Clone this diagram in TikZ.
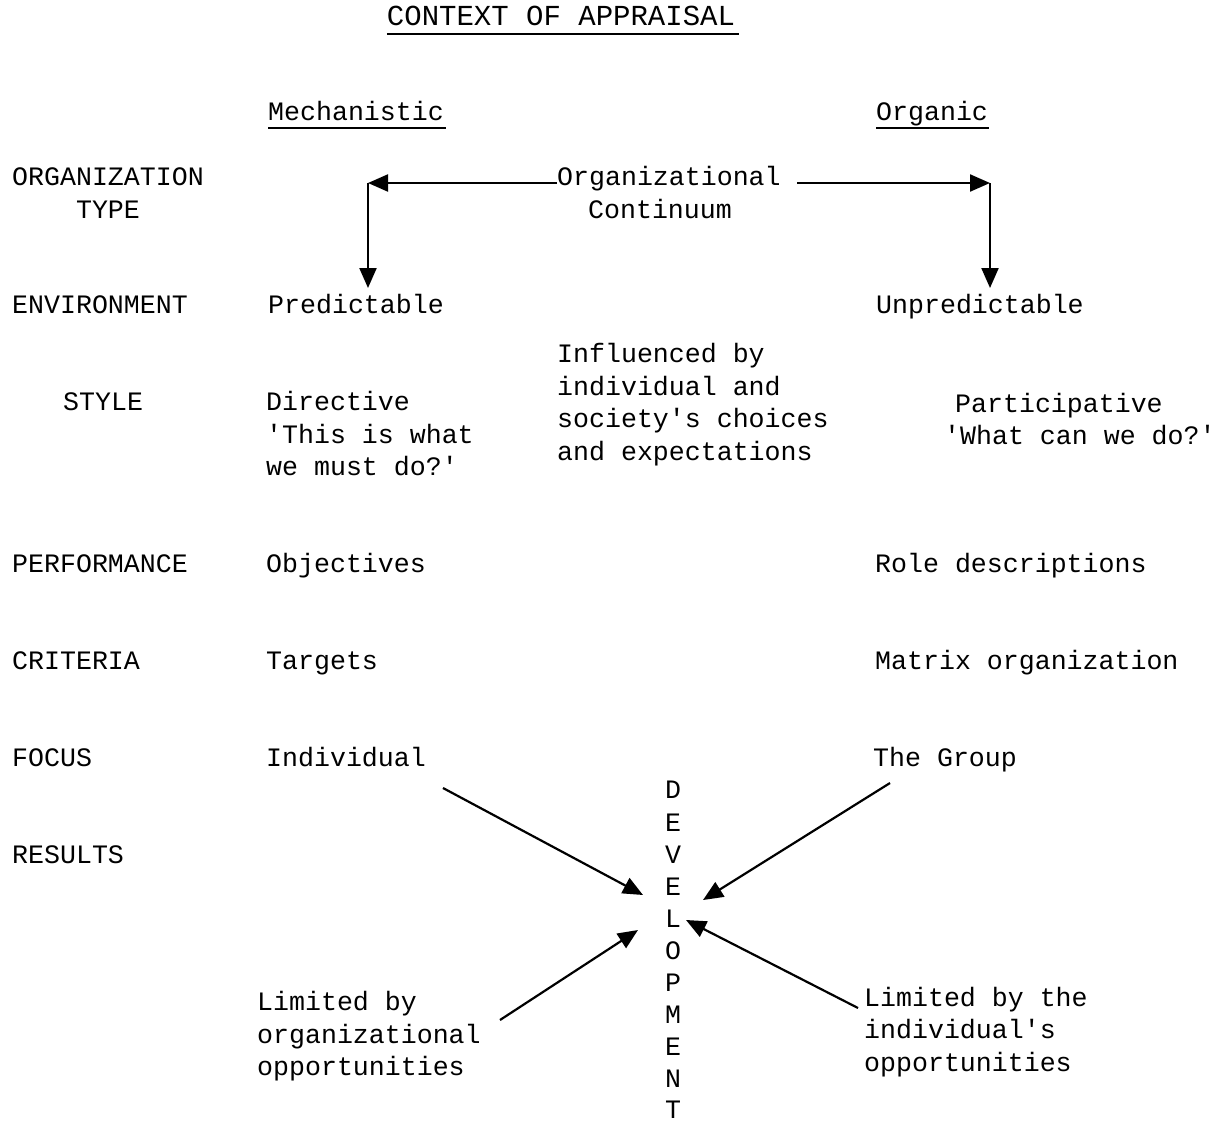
\documentclass[tikz,border=0pt]{standalone}
\usepackage{fontspec}
\setmainfont{Liberation Mono}
\usetikzlibrary{arrows.meta}
\begin{document}
\begin{tikzpicture}[x=1pt,y=-1pt,
  txt/.style={anchor=base west,inner sep=0pt,font=\fontsize{26.6}{32.5}\selectfont},
  ctr/.style={anchor=base,inner sep=0pt,font=\fontsize{26.6}{32.5}\selectfont},
  ttl/.style={anchor=base,inner sep=0pt,font=\fontsize{29}{34}\selectfont},
  ul/.style={line width=2pt},
  arr/.style={line width=2.2pt,-{Triangle[length=20pt,width=17pt]}},
  ln/.style={line width=2.2pt}]
\useasboundingbox (0,0) rectangle (1225,1124);
\fill[white] (0,0) rectangle (1225,1124);
% title
\node[ttl] (title) at (561,26) {CONTEXT OF APPRAISAL};
\draw[ul] (title.base west)++(0,8) -- ++(352,0);
\node[txt] (mech) at (268,120) {Mechanistic};
\draw[ul] (mech.base west)++(0,8) -- ++(178,0);
\node[txt] (org) at (876,120) {Organic};
\draw[ul] (org.base west)++(0,8) -- ++(113,0);
% row labels
\node[txt] (orgtype) at (12,185) {ORGANIZATION};
\node[ctr] (type) at (108,218) {TYPE};
\node[txt] (env) at (12,313) {ENVIRONMENT};
\node[txt] (style) at (63,410) {STYLE};
\node[txt] (perf) at (12,572) {PERFORMANCE};
\node[txt] (crit) at (12,669) {CRITERIA};
\node[txt] (focus) at (12,766) {FOCUS};
\node[txt] (res) at (12,863) {RESULTS};
% continuum
\node[txt] (oc1) at (557,185) {Organizational};
\node[ctr] (oc2) at (660,218) {Continuum};
\coordinate (lc) at (368,183);
\coordinate (rc) at (990,183);
\draw[arr] (557,183) -- (lc);
\draw[arr] (lc) -- (368,288);
\draw[arr] (797,183) -- (rc);
\draw[arr] (rc) -- (990,288);
% left column
\node[txt] (pred) at (268,313) {Predictable};
\node[txt] (dir1) at (266,410) {Directive};
\node[txt] (dir2) at (266,443) {\textquotesingle This is what};
\node[txt] (dir3) at (266,475) {we must do?\textquotesingle};
\node[txt] (obj) at (266,572) {Objectives};
\node[txt] (targ) at (266,669) {Targets};
\node[txt] (indiv) at (266,766) {Individual};
% middle
\node[txt] (inf1) at (557,362) {Influenced by};
\node[txt] (inf2) at (557,395) {individual and};
\node[txt] (inf3) at (557,427) {society\textquotesingle s choices};
\node[txt] (inf4) at (557,460) {and expectations};
% right column
\node[txt] (unpred) at (876,313) {Unpredictable};
\node[txt] (part1) at (955,412) {Participative};
\node[txt] (part2) at (944,444) {\textquotesingle What can we do?\textquotesingle};
\node[txt] (role) at (875,572) {Role descriptions};
\node[txt] (matrix) at (875,669) {Matrix organization};
\node[txt] (group) at (873,766) {The Group};
% development
\foreach \l/\y [count=\i] in {D/790,E/823,V/855,E/887,L/919,O/951,P/983,M/1015,E/1047,N/1079,T/1110}
  \node[ctr] (dev\i) at (673,\y+8) {\l};
% bottom texts
\node[txt] (lo1) at (257,1010) {Limited by};
\node[txt] (lo2) at (257,1043) {organizational};
\node[txt] (lo3) at (257,1075) {opportunities};
\node[txt] (li1) at (864,1006) {Limited by the};
\node[txt] (li2) at (864,1038) {individual\textquotesingle s};
\node[txt] (li3) at (864,1071) {opportunities};
% arrows to development
\coordinate (a1s) at (443,788); \coordinate (a1e) at (643,895);
\coordinate (a2s) at (890,783); \coordinate (a2e) at (703,900);
\coordinate (a3s) at (500,1020); \coordinate (a3e) at (638,930);
\coordinate (a4s) at (858,1008); \coordinate (a4e) at (686,920);
\draw[arr] (a1s) -- (a1e);
\draw[arr] (a2s) -- (a2e);
\draw[arr] (a3s) -- (a3e);
\draw[arr] (a4s) -- (a4e);
\end{tikzpicture}
\end{document}
